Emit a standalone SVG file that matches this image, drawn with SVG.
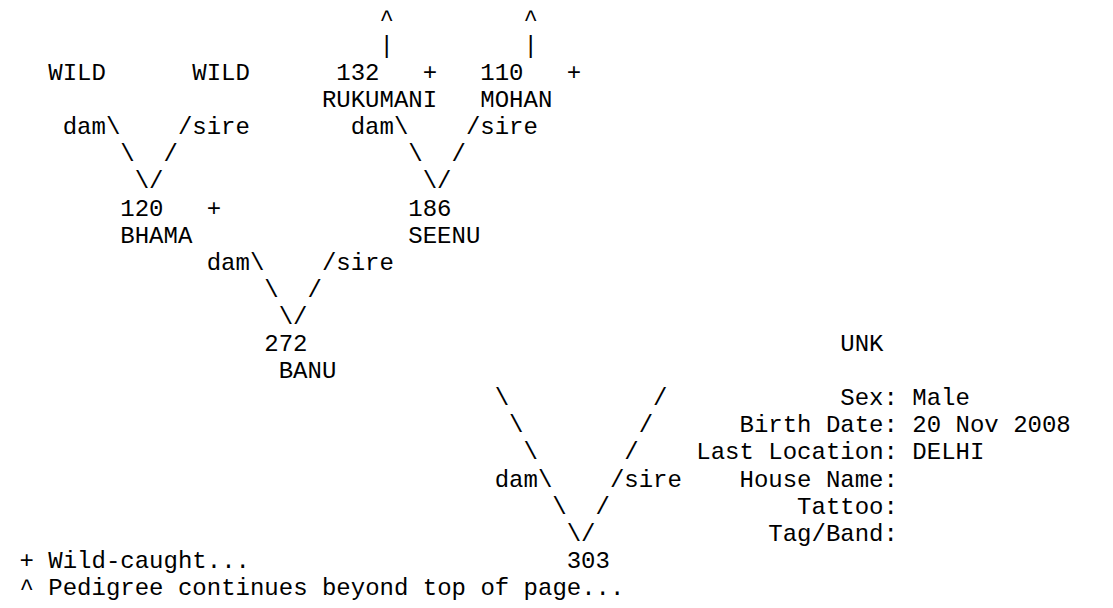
<svg xmlns="http://www.w3.org/2000/svg" width="1113" height="608" viewBox="0 0 1113 608">
<style>
text{font-family:"Courier New","Liberation Mono",monospace;font-size:24px;fill:#000;white-space:pre}
</style>
<rect width="1113" height="608" fill="#fff"/>
<g id="connectors">
<text x="379.5" y="25.8">^</text><text x="523.5" y="25.8">^</text>
<text x="379.5" y="52.9">|</text><text x="523.5" y="52.9">|</text>
<text x="62.7" y="134.2">dam\</text><text x="177.9" y="134.2">/sire</text>
<text x="350.7" y="134.2">dam\</text><text x="465.9" y="134.2">/sire</text>
<text x="120.3" y="161.3">\</text><text x="163.5" y="161.3">/</text>
<text x="408.3" y="161.3">\</text><text x="451.5" y="161.3">/</text>
<text x="134.7" y="188.4">\/</text><text x="422.7" y="188.4">\/</text>
<text x="206.7" y="269.7">dam\</text><text x="321.9" y="269.7">/sire</text>
<text x="264.3" y="296.8">\</text><text x="307.5" y="296.8">/</text>
<text x="278.7" y="323.9">\/</text>
<text x="494.7" y="405.2">\</text><text x="653.1" y="405.2">/</text>
<text x="509.1" y="432.3">\</text><text x="638.7" y="432.3">/</text>
<text x="523.5" y="459.4">\</text><text x="624.3" y="459.4">/</text>
<text x="494.7" y="486.5">dam\</text><text x="609.9" y="486.5">/sire</text>
<text x="552.3" y="513.6">\</text><text x="595.5" y="513.6">/</text>
<text x="566.7" y="540.7">\/</text>
</g>
<g id="node-wild-dam"><text x="48.3" y="80">WILD</text></g>
<g id="node-wild-sire"><text x="192.3" y="80">WILD</text></g>
<g id="node-132"><text x="336.3" y="80">132</text><text x="422.7" y="80">+</text><text x="321.9" y="107.1">RUKUMANI</text></g>
<g id="node-110"><text x="480.3" y="80">110</text><text x="566.7" y="80">+</text><text x="480.3" y="107.1">MOHAN</text></g>
<g id="node-120"><text x="120.3" y="215.5">120</text><text x="206.7" y="215.5">+</text><text x="120.3" y="242.6">BHAMA</text></g>
<g id="node-186"><text x="408.3" y="215.5">186</text><text x="408.3" y="242.6">SEENU</text></g>
<g id="node-272"><text x="264.3" y="351">272</text><text x="278.7" y="378.1">BANU</text></g>
<g id="node-unk">
<text x="840.3" y="351">UNK</text>
<text x="840.3" y="405.2">Sex: Male</text>
<text x="739.5" y="432.3">Birth Date: 20 Nov 2008</text>
<text x="696.3" y="459.4">Last Location: DELHI</text>
<text x="739.5" y="486.5">House Name:</text>
<text x="797.1" y="513.6">Tattoo:</text>
<text x="768.3" y="540.7">Tag/Band:</text>
</g>
<g id="node-303"><text x="566.7" y="567.8">303</text></g>
<g id="legend">
<text x="19.5" y="567.8">+ Wild-caught...</text>
<text x="19.5" y="594.9">^ Pedigree continues beyond top of page...</text>
</g>
</svg>
